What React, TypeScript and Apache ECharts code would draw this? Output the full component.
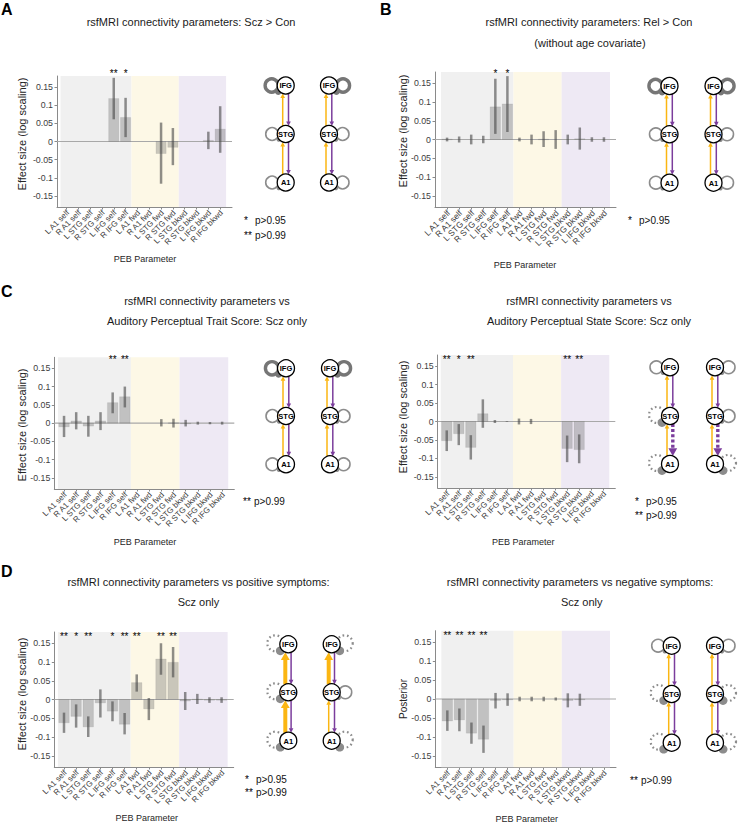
import React, { useEffect, useRef } from "react";
import * as echarts from "echarts";

// ---------------- data ----------------
const paramLabels = [
  "L A1 self", "R A1 self", "L STG self", "R STG self", "L IFG self", "R IFG self",
  "L A1 fwd", "R A1 fwd", "L STG fwd", "R STG fwd",
  "L STG bkwd", "R STG bkwd", "L IFG bkwd", "R IFG bkwd",
];
const paramPos = [1, 2, 3, 4, 5, 6, 7, 8, 9, 10, 11, 12, 13, 14];
const yTickValues = [-0.15, -0.1, -0.05, 0, 0.05, 0.1, 0.15];
const groupBounds = [[0.5, 6.5], [6.5, 10.5], [10.5, 14.5]];
const nodeNames = ["IFG", "STG", "A1"];

// A: Scz > Con
const meanA = [0, 0, 0, 0, 0.118, 0.066, 0, 0, -0.033, -0.016, 0, 0, 0.003, 0.034];
const lowA = [0, 0, 0, 0, 0.061, 0.012, 0, 0, -0.116, -0.065, 0, 0, -0.021, -0.031];
const highA = [0, 0, 0, 0, 0.175, 0.12, 0, 0, 0.052, 0.037, 0, 0, 0.027, 0.097];
const sigA = ["", "", "", "", "**", "*", "", "", "", "", "", "", "", ""];

// B: Rel > Con
const meanB = [0.001, 0, 0, 0, 0.087, 0.095, 0, 0, 0.001, 0, 0, 0.002, 0, 0];
const lowB = [-0.005, -0.008, -0.013, -0.01, 0.015, 0.02, -0.005, -0.013, -0.02, -0.025, -0.013, -0.027, -0.006, -0.006];
const highB = [0.005, 0.008, 0.013, 0.01, 0.162, 0.169, 0.005, 0.013, 0.022, 0.025, 0.013, 0.032, 0.006, 0.006];
const sigB = ["", "", "", "", "*", "*", "", "", "", "", "", "", "", ""];

// C left: Trait score
const meanC1 = [-0.01, 0.006, -0.008, 0.006, 0.056, 0.072, 0, 0, 0, 0.001, -0.001, 0, 0, 0];
const lowC1 = [-0.038, -0.017, -0.037, -0.019, 0.027, 0.043, 0, 0, -0.009, -0.012, -0.009, -0.004, -0.003, -0.004];
const highC1 = [0.02, 0.03, 0.02, 0.03, 0.084, 0.1, 0, 0, 0.011, 0.012, 0.009, 0.004, 0.003, 0.004];
const sigC1 = ["", "", "", "", "**", "**", "", "", "", "", "", "", "", ""];

// C right: State score
const meanC2 = [-0.052, -0.033, -0.07, 0.021, 0, 0, 0, 0, 0, 0, -0.073, -0.076, 0, 0];
const lowC2 = [-0.08, -0.064, -0.103, -0.017, -0.004, -0.001, -0.008, -0.007, 0, 0, -0.11, -0.113, 0, 0];
const highC2 = [-0.024, -0.007, -0.037, 0.06, 0.004, 0.001, 0.008, 0.007, 0, 0, -0.038, -0.035, 0, 0];
const sigC2 = ["**", "*", "**", "", "", "", "", "", "", "", "**", "**", "", ""];

// D left: positive symptoms
const meanD1 = [-0.062, -0.045, -0.073, -0.009, -0.031, -0.066, 0.045, -0.025, 0.108, 0.099, -0.004, 0.001, -0.002, -0.002];
const lowD1 = [-0.089, -0.075, -0.1, -0.048, -0.058, -0.093, 0.021, -0.055, 0.066, 0.059, -0.028, -0.012, -0.009, -0.009];
const highD1 = [-0.035, -0.013, -0.045, 0.027, -0.005, -0.036, 0.067, 0.004, 0.15, 0.14, 0.02, 0.015, 0.006, 0.006];
const sigD1 = ["**", "*", "**", "", "*", "**", "**", "", "**", "**", "", "", "", ""];

// D right: negative symptoms
const meanD2 = [-0.058, -0.055, -0.09, -0.106, -0.004, -0.002, 0, 0, 0, 0, -0.004, -0.002, 0, 0];
const lowD2 = [-0.084, -0.085, -0.118, -0.142, -0.025, -0.018, -0.006, -0.006, -0.006, -0.004, -0.022, -0.018, 0, 0];
const highD2 = [-0.03, -0.025, -0.062, -0.07, 0.016, 0.015, 0.006, 0.006, 0.006, 0.004, 0.015, 0.014, 0, 0];
const sigD2 = ["**", "**", "**", "**", "", "", "", "", "", "", "", "", "", ""];

// ---------------- styles / layout ----------------
const FONT = '"Liberation Sans", Arial, Helvetica, sans-serif';
const AXIS = "#8a8a8a";
const LABEL = "#404040";
const SHADES = ["#f0f0f0", "#fdf8e6", "#eee9f4"];
const BAR_FILL = "rgba(115,115,115,0.38)";
const BAR_EDGE = "rgba(115,115,115,0.22)";
const ERR = "rgba(70,70,70,0.6)";
const YEL = "#fbb612";
const PUR = "#7b3d9c";
const LOOP = "#8c8c8c";
const Y_MIN = -0.18;
const Y_MAX = 0.18;
const X_MAX = 15;

const panels = [
  {
    mean: meanA, low: lowA, high: highA, sig: sigA,
    grid: { left: 57, top: 76, width: 175, height: 131 }, xMin: 0.2, starY: 0.188, xLabelSize: 8,
    yName: "Effect size (log scaling)", yNamePos: [22, 134], yNameSize: 11, peb: [145, 259],
    titles: [["rsfMRI connectivity parameters: Scz > Con", 191, 22]],
    letter: ["A", 1, 9],
    legend: { x0: 244, rows: [["*", "p>0.95", 220], ["**", "p>0.99", 235]] },
    diag: { cx: [285.7, 329], ys: [85.5, 134, 182.5] },
  },
  {
    mean: meanB, low: lowB, high: highB, sig: sigB,
    grid: { left: 435, top: 72, width: 181, height: 135 }, xMin: 0, starY: 0.176, xLabelSize: 8.5,
    yName: "Effect size (log scaling)", yNamePos: [403, 131], yNameSize: 11, peb: [525, 265],
    titles: [["rsfMRI connectivity parameters: Rel > Con", 589, 22], ["(without age covariate)", 590, 43]],
    letter: ["B", 380, 9],
    legend: { x0: 628, rows: [["*", "p>0.95", 220]] },
    diag: { cx: [669.5, 713.5], ys: [86, 134.3, 182.7] },
  },
  {
    mean: meanC1, low: lowC1, high: highC1, sig: sigC1,
    grid: { left: 54.3, top: 357.3, width: 180, height: 131.7 }, xMin: 0.2, starY: 0.174, xLabelSize: 8,
    yName: "Effect size (log scaling)", yNamePos: [22, 425], yNameSize: 11, peb: [145, 541.7],
    titles: [["rsfMRI connectivity parameters vs", 207, 300.7], ["Auditory Perceptual Trait Score: Scz only", 207, 321]],
    letter: ["C", 1, 291],
    legend: { x0: 243, rows: [["**", "p>0.99", 501]] },
    diag: { cx: [286, 330], ys: [368.3, 416, 464.3] },
  },
  {
    mean: meanC2, low: lowC2, high: highC2, sig: sigC2,
    grid: { left: 437.7, top: 355, width: 177.6, height: 133 }, xMin: 0.25, starY: 0.168, xLabelSize: 8,
    yName: "Effect size (log scaling)", yNamePos: [403.3, 417], yNameSize: 11, peb: [523.3, 541.7],
    titles: [["rsfMRI connectivity parameters vs", 589, 300.7], ["Auditory Perceptual State Score: Scz only", 589, 321]],
    letter: null,
    legend: { x0: 635, rows: [["*", "p>0.95", 501.7], ["**", "p>0.99", 515]] },
    diag: { cx: [670, 715], ys: [367.3, 416, 464] },
  },
  {
    mean: meanD1, low: lowD1, high: highD1, sig: sigD1,
    grid: { left: 54.3, top: 632, width: 179.4, height: 135 }, xMin: 0.2, starY: 0.168, xLabelSize: 8,
    yName: "Effect size (log scaling)", yNamePos: [22, 694], yNameSize: 11, peb: [146.7, 818.3],
    titles: [["rsfMRI connectivity parameters vs positive symptoms:", 198.5, 582.3], ["Scz only", 198.5, 602.3]],
    letter: ["D", 1, 571],
    legend: { x0: 245, rows: [["*", "p>0.95", 779.3], ["**", "p>0.99", 792.3]] },
    diag: { cx: [288.3, 331.7], ys: [644.3, 692.3, 740.7] },
  },
  {
    mean: meanD2, low: lowD2, high: highD2, sig: sigD2,
    grid: { left: 435.3, top: 630.7, width: 180.7, height: 136.6 }, xMin: 0, starY: 0.168, xLabelSize: 8,
    yName: "Posterior", yNamePos: [403.3, 699], yNameSize: 10, peb: [526.7, 819.3],
    titles: [["rsfMRI connectivity parameters vs negative symptoms:", 580, 582.3], ["Scz only", 581.7, 602.3]],
    letter: null,
    legend: { x0: 630, rows: [["**", "p>0.99", 780]] },
    diag: { cx: [671.7, 715], ys: [645.7, 694, 742.7] },
  },
];

function txt(text: string, x: number, y: number, size: number, opts: any = {}) {
  const align = opts.align || "center";
  const va = opts.va || "middle";
  return {
    type: "text",
    x,
    y,
    rotation: opts.rotation || 0,
    z: 20,
    silent: true,
    style: {
      text,
      font: `${opts.weight || "normal"} ${size}px ${FONT}`,
      fill: opts.color || "#1a1a1a",
      align,
      verticalAlign: va,
      textAlign: align,
      textVerticalAlign: va,
    },
  };
}

function diagramElements(cxs: number[], ys: number[], mean: number[], sig: string[]) {
  const els: any[] = [];
  const r = 8.5;
  const state = (i: number) => (sig[i] ? (mean[i] > 0 ? 1 : -1) : 0);
  cxs.forEach((cx, side) => {
    const dir = side === 0 ? -1 : 1;
    const selfIdx = [4 + side, 2 + side, 0 + side];
    // self connections
    ys.forEach((y, k) => {
      const st = state(selfIdx[k]);
      if (st === 0) {
        els.push({ type: "circle", z: 10, silent: true, shape: { cx: cx + dir * 13.6, cy: y, r: 6.4 }, style: { fill: "none", stroke: LOOP, lineWidth: 1.6 } });
        els.push({ type: "circle", z: 10, silent: true, shape: { cx: cx + dir * 7, cy: y + 5.6, r: 2.2 }, style: { fill: LOOP } });
      } else if (st > 0) {
        els.push({ type: "circle", z: 10, silent: true, shape: { cx: cx + dir * 14, cy: y, r: 6.6 }, style: { fill: "none", stroke: "#767676", lineWidth: 3.4 } });
        els.push({ type: "circle", z: 10, silent: true, shape: { cx: cx + dir * 7.4, cy: y + 6, r: 3.4 }, style: { fill: "#767676" } });
      } else {
        els.push({ type: "circle", z: 10, silent: true, shape: { cx: cx + dir * 13, cy: y - 1, r: 8 }, style: { fill: "none", stroke: LOOP, lineWidth: 2.2, lineDash: [1.6, 2.8] } });
        els.push({ type: "circle", z: 10, silent: true, shape: { cx: cx + dir * 8, cy: y + 6.5, r: 4.4 }, style: { fill: LOOP } });
      }
    });
    // between-region connections
    const links = [
      { from: 2, to: 1, idx: 6 + side, fwd: true },
      { from: 1, to: 0, idx: 8 + side, fwd: true },
      { from: 1, to: 2, idx: 10 + side, fwd: false },
      { from: 0, to: 1, idx: 12 + side, fwd: false },
    ];
    links.forEach((l) => {
      const st = state(l.idx);
      const color = l.fwd ? YEL : PUR;
      const x = cx + (l.fwd ? -3 : 2.8);
      const yFrom = ys[l.from];
      const yTo = ys[l.to];
      const sgn = yTo > yFrom ? 1 : -1;
      const y0 = yFrom + sgn * (r - 0.6);
      const tip = yTo - sgn * (r - 0.6);
      const lw = st === 0 ? 1.5 : st > 0 ? 4 : 3.4;
      const hw = st === 0 ? 4.6 : 8.8;
      const hl = st === 0 ? 4.6 : 7.8;
      const lineEnd = tip - sgn * hl * 0.9;
      els.push({
        type: "line", z: 11, silent: true,
        shape: { x1: x, y1: y0, x2: x, y2: lineEnd },
        style: st < 0 ? { stroke: color, lineWidth: lw, lineDash: [3, 2.2] } : { stroke: color, lineWidth: lw },
      });
      els.push({
        type: "polygon", z: 11, silent: true,
        shape: { points: [[x, tip], [x - hw / 2, tip - sgn * hl], [x + hw / 2, tip - sgn * hl]] },
        style: { fill: color },
      });
    });
    // nodes
    ys.forEach((y, k) => {
      els.push({ type: "circle", z: 12, silent: true, shape: { cx, cy: y, r }, style: { fill: "#ffffff", stroke: "#000000", lineWidth: 1.3 } });
      const t = txt(nodeNames[k], cx, y + 0.3, 7.5, { weight: "bold", color: "#000" });
      (t as any).z = 13;
      els.push(t);
    });
  });
  return els;
}

function buildOption() {
  const option: any = {
    animation: false,
    backgroundColor: "#ffffff",
    grid: [],
    xAxis: [],
    yAxis: [],
    series: [],
    graphic: { elements: [] as any[] },
  };
  const gEls = option.graphic.elements;

  panels.forEach((p, k) => {
    option.grid.push({ ...p.grid, containLabel: false });
    option.xAxis.push({
      type: "value",
      gridIndex: k,
      min: p.xMin,
      max: X_MAX,
      axisLine: { show: true, onZero: false, lineStyle: { color: AXIS, width: 1 } },
      axisTick: { show: true, customValues: paramPos, length: 2.5, lineStyle: { color: AXIS } },
      axisLabel: { show: false },
      splitLine: { show: false },
    });
    option.yAxis.push({
      type: "value",
      gridIndex: k,
      min: Y_MIN,
      max: Y_MAX,
      axisLine: { show: true, onZero: false, lineStyle: { color: AXIS, width: 1 } },
      axisTick: { show: true, customValues: yTickValues, length: 2.5, lineStyle: { color: AXIS } },
      axisLabel: {
        customValues: yTickValues,
        fontSize: 8.8,
        fontFamily: FONT,
        color: LABEL,
        margin: 4,
        showMinLabel: true,
        showMaxLabel: true,
        formatter: (v: number) => String(Number(v.toFixed(2))),
      },
      splitLine: { show: false },
    });

    // shaded parameter groups
    option.series.push({
      type: "custom",
      xAxisIndex: k,
      yAxisIndex: k,
      silent: true,
      z: 1,
      data: groupBounds.map((g, i) => [g[0], g[1], i]),
      renderItem: (params: any, api: any) => {
        const a = api.coord([api.value(0), Y_MAX]);
        const b = api.coord([api.value(1), Y_MIN]);
        return {
          type: "rect",
          shape: { x: a[0], y: a[1], width: b[0] - a[0], height: b[1] - a[1] },
          style: { fill: SHADES[api.value(2)] },
        };
      },
    });

    // zero line
    option.series.push({
      type: "line",
      xAxisIndex: k,
      yAxisIndex: k,
      silent: true,
      z: 2,
      symbol: "none",
      data: [[p.xMin, 0], [X_MAX, 0]],
      lineStyle: { color: "#a8a8a8", width: 1.1 },
    });

    // bars, error bars, significance stars, rotated parameter labels
    const sig = p.sig;
    const starY = p.starY;
    const labelFont = `${p.xLabelSize}px ${FONT}`;
    option.series.push({
      type: "custom",
      xAxisIndex: k,
      yAxisIndex: k,
      silent: true,
      clip: false,
      z: 3,
      data: paramPos.map((x, i) => [x, p.mean[i], p.low[i], p.high[i]]),
      renderItem: (params: any, api: any) => {
        const i = params.dataIndex;
        const x = api.value(0);
        const m = api.value(1);
        const lo = api.value(2);
        const hi = api.value(3);
        const bw = api.size([0.86, 0])[0];
        const c0 = api.coord([x, 0]);
        const cm = api.coord([x, m]);
        const children: any[] = [];
        if (m !== 0) {
          children.push({
            type: "rect",
            shape: { x: c0[0] - bw / 2, y: Math.min(c0[1], cm[1]), width: bw, height: Math.max(Math.abs(cm[1] - c0[1]), 0.6) },
            style: { fill: BAR_FILL, stroke: BAR_EDGE, lineWidth: 0.6 },
          });
        }
        if (hi !== lo) {
          const cl = api.coord([x, lo]);
          const ch = api.coord([x, hi]);
          children.push({
            type: "line",
            shape: { x1: cl[0], y1: cl[1], x2: ch[0], y2: ch[1] },
            style: { stroke: ERR, lineWidth: 2.5 },
          });
        }
        if (sig[i]) {
          const cs = api.coord([x, starY]);
          children.push({
            type: "text",
            x: cs[0],
            y: cs[1],
            style: {
              text: sig[i],
              font: `10px ${FONT}`,
              fill: "#000000",
              align: "center",
              verticalAlign: "middle",
              textAlign: "center",
              textVerticalAlign: "middle",
            },
          });
        }
        const cb = api.coord([x, Y_MIN]);
        children.push({
          type: "text",
          x: cb[0] + 1.5,
          y: cb[1] + 4.5,
          rotation: Math.PI / 4,
          style: {
            text: paramLabels[i],
            font: labelFont,
            fill: LABEL,
            align: "right",
            verticalAlign: "middle",
            textAlign: "right",
            textVerticalAlign: "middle",
          },
        });
        return { type: "group", children };
      },
    });

    // texts
    p.titles.forEach((t: any) => gEls.push(txt(t[0], t[1], t[2], 11)));
    if (p.letter) gEls.push(txt(p.letter[0] as string, p.letter[1] as number, p.letter[2] as number, 16, { weight: "bold", align: "left", color: "#000" }));
    gEls.push(txt(p.yName, p.yNamePos[0], p.yNamePos[1], p.yNameSize, { rotation: Math.PI / 2, color: "#262626" }));
    gEls.push(txt("PEB Parameter", p.peb[0], p.peb[1], 9, { color: "#262626" }));
    p.legend.rows.forEach((row: any) => {
      gEls.push(txt(row[0], p.legend.x0, row[2], 10, { align: "left", color: "#000" }));
      gEls.push(txt(row[1], p.legend.x0 + 11, row[2], 10, { align: "left", color: "#111" }));
    });
    diagramElements(p.diag.cx, p.diag.ys, p.mean, p.sig).forEach((e) => gEls.push(e));
  });
  return option;
}

export default function App() {
  const ref = useRef<HTMLDivElement>(null);
  useEffect(() => {
    if (!ref.current) return;
    const chart = echarts.init(ref.current, null, { renderer: "svg" });
    chart.setOption(buildOption());
    return () => chart.dispose();
  }, []);
  return (
    <div
      ref={ref}
      style={{ position: "absolute", left: 0, top: 0, width: 740, height: 826, background: "#ffffff" }}
    />
  );
}
